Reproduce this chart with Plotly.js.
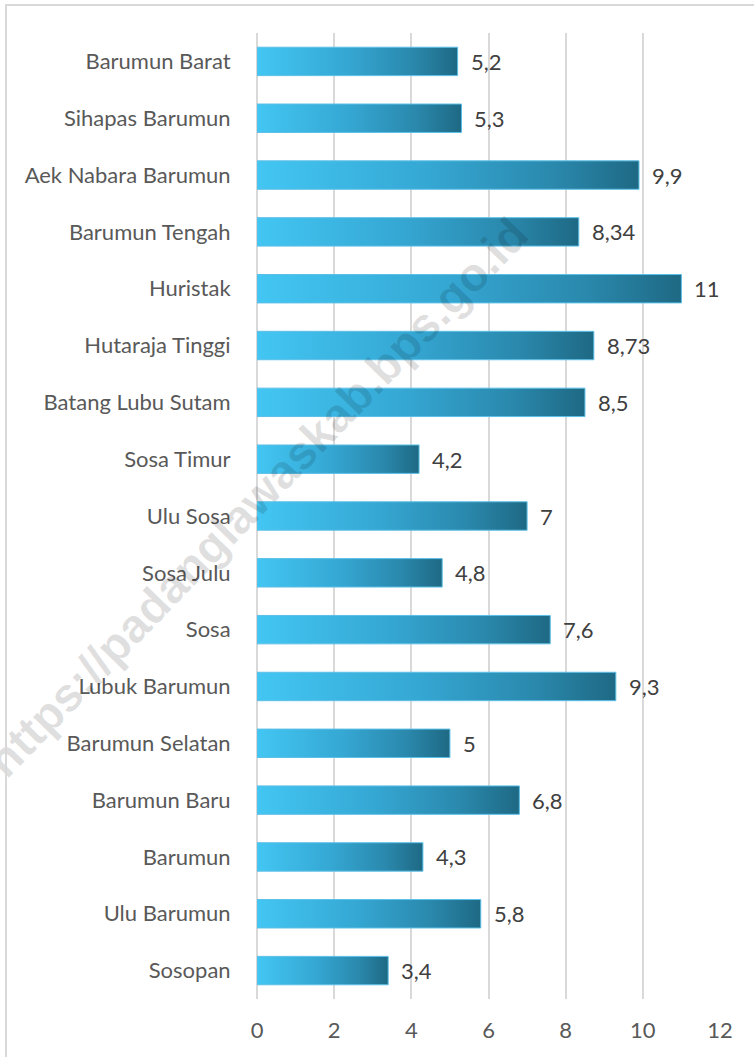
<!DOCTYPE html>
<html>
<head>
<meta charset="utf-8">
<script src="https://cdn.plot.ly/plotly-3.0.1.min.js"></script>
<style>
  html, body { margin: 0; padding: 0; background: #ffffff; }
  #wrap { position: relative; width: 754px; height: 1057px; overflow: hidden; background: #ffffff; }
  #watermark { position: absolute; left: 257px; top: 497px; white-space: nowrap;
               transform: translate(-50%, -50%) rotate(-46deg);
               font-family: "Liberation Sans", Arial, sans-serif; font-weight: bold;
               font-size: 47px; color: rgba(0,0,0,0.12); pointer-events: none; }
  #chart { position: absolute; left: 0; top: 0; width: 754px; height: 1057px; }
  #frame { position: absolute; left: 5px; top: 4px; width: 800px; height: 1100px;
           border-left: 2px solid #d9d9d9; border-top: 2px solid #d9d9d9; pointer-events: none; }
</style>
</head>
<body>
<div id="wrap">
  <div id="chart"></div>
  <div id="watermark"></div>
  <div id="frame"></div>
</div>
<script>
// ---- data ----
const categories = [
  'Barumun Barat', 'Sihapas Barumun', 'Aek Nabara Barumun', 'Barumun Tengah',
  'Huristak', 'Hutaraja Tinggi', 'Batang Lubu Sutam', 'Sosa Timur', 'Ulu Sosa',
  'Sosa Julu', 'Sosa', 'Lubuk Barumun', 'Barumun Selatan', 'Barumun Baru',
  'Barumun', 'Ulu Barumun', 'Sosopan'
];
const values = [5.2, 5.3, 9.9, 8.34, 11, 8.73, 8.5, 4.2, 7, 4.8, 7.6, 9.3, 5, 6.8, 4.3, 5.8, 3.4];
const valueLabels = values.map(v => String(v).replace('.', ','));
const xTickValues = [0, 2, 4, 6, 8, 10, 12];
const watermarkText = 'https://padanglawaskab.bps.go.id';

document.getElementById('watermark').textContent = watermarkText;

// ---- chart ----
const FONT = 'Lato, "Open Sans", sans-serif';

const trace = {
  type: 'bar',
  orientation: 'h',
  y: categories,
  x: values,
  width: 0.5,
  marker: { color: '#33a3cf', line: { color: '#5cbfe6', width: 1 } },
  hoverinfo: 'none'
};

const annotations = categories.map((c, i) => ({
  x: values[i], y: c, xref: 'x', yref: 'y',
  text: valueLabels[i], showarrow: false,
  xanchor: 'left', yanchor: 'middle', xshift: 11,
  font: { family: FONT, size: 22, color: '#404040' }
}));

const layout = {
  width: 754, height: 1057,
  margin: { l: 257, r: 34, t: 33, b: 58 },
  paper_bgcolor: 'rgba(0,0,0,0)',
  plot_bgcolor: 'rgba(0,0,0,0)',
  showlegend: false,
  bargap: 0.5,
  font: { family: FONT, size: 22, color: '#595959' },
  xaxis: {
    range: [0, 12], tickvals: xTickValues, ticktext: xTickValues.map(String),
    showgrid: true, gridcolor: '#d9d9d9', gridwidth: 2,
    zeroline: true, zerolinecolor: '#d9d9d9', zerolinewidth: 2,
    showline: false, ticks: 'outside', ticklen: 12, tickcolor: 'rgba(0,0,0,0)',
    tickfont: { family: FONT, size: 22, color: '#595959' },
    fixedrange: true
  },
  yaxis: {
    type: 'category', categoryorder: 'array', categoryarray: categories,
    autorange: 'reversed', showgrid: false, zeroline: false, showline: false,
    ticks: 'outside', ticklen: 21, tickcolor: 'rgba(0,0,0,0)',
    tickfont: { family: FONT, size: 22, color: '#595959' },
    fixedrange: true
  },
  annotations: annotations
};

Plotly.newPlot('chart', [trace], layout, { displayModeBar: false, staticPlot: true }).then(gd => {
  const svg = gd.querySelector('svg.main-svg');
  const NS = 'http://www.w3.org/2000/svg';
  let defs = svg.querySelector('defs');
  if (!defs) { defs = document.createElementNS(NS, 'defs'); svg.insertBefore(defs, svg.firstChild); }
  const grad = document.createElementNS(NS, 'linearGradient');
  grad.setAttribute('id', 'barGrad');
  grad.setAttribute('x1', '0'); grad.setAttribute('y1', '0');
  grad.setAttribute('x2', '1'); grad.setAttribute('y2', '0');
  [['0', '#43c6f3'], ['0.45', '#35a7d3'], ['0.78', '#2a88ac'], ['1', '#1e6984']].forEach(([o, c]) => {
    const s = document.createElementNS(NS, 'stop');
    s.setAttribute('offset', o); s.setAttribute('stop-color', c);
    grad.appendChild(s);
  });
  defs.appendChild(grad);
  gd.querySelectorAll('.trace.bars .point path').forEach(p => {
    p.style.fill = 'url(#barGrad)';
  });
});
</script>
</body>
</html>
